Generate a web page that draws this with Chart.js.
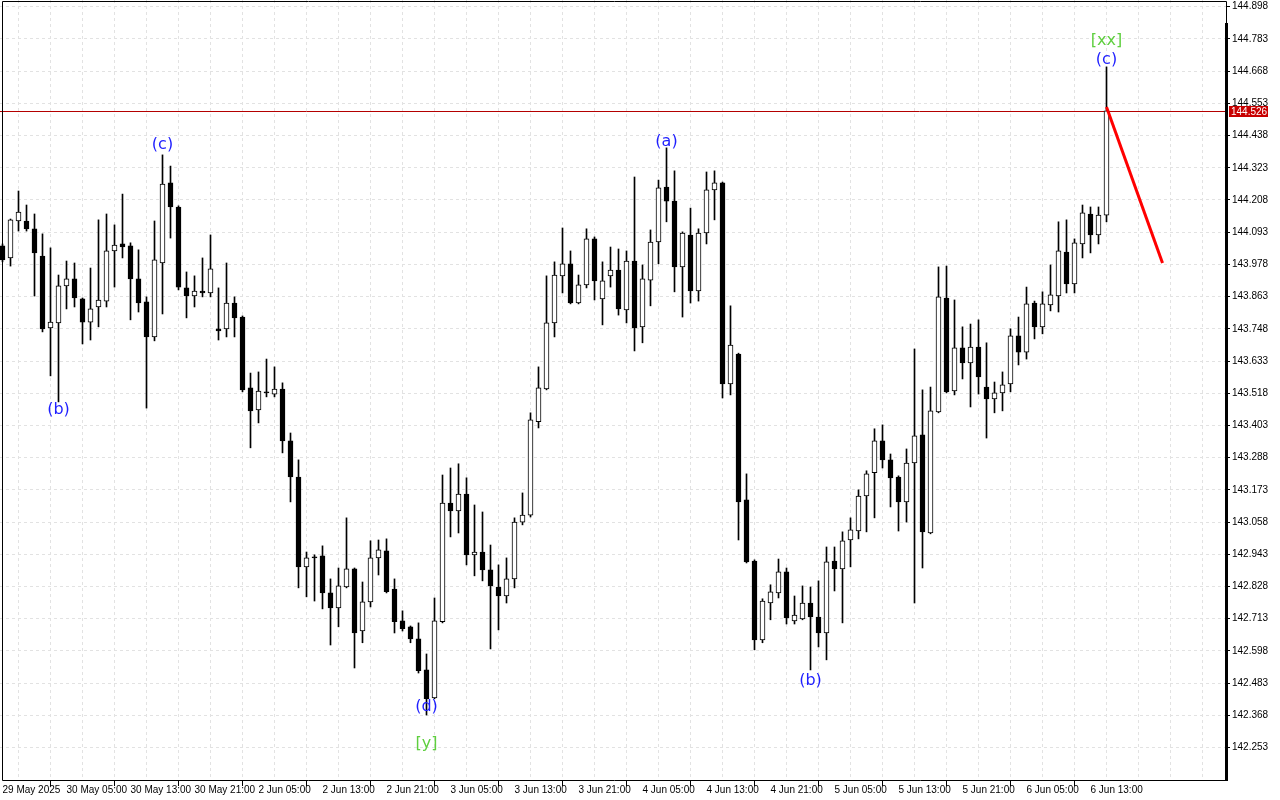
<!DOCTYPE html>
<html><head><meta charset="utf-8">
<script src="https://cdn.jsdelivr.net/npm/chart.js@4.4.1/dist/chart.umd.min.js"></script>
<style>html,body{margin:0;padding:0;background:#fff;overflow:hidden}canvas{display:block}</style>
</head><body>
<canvas id="c" width="1280" height="800"></canvas>
<script>
// ---- data (H1 candles, 29 May 21:00 -> 6 Jun 15:00) ----
const axisLabels = ['29 May 2025','30 May 05:00','30 May 13:00','30 May 21:00','2 Jun 05:00','2 Jun 13:00','2 Jun 21:00','3 Jun 05:00','3 Jun 13:00','3 Jun 21:00','4 Jun 05:00','4 Jun 13:00','4 Jun 21:00','5 Jun 05:00','5 Jun 13:00','5 Jun 21:00','6 Jun 05:00','6 Jun 13:00'];
const yTicks = [142.253,142.368,142.483,142.598,142.713,142.828,142.943,143.058,143.173,143.288,143.403,143.518,143.633,143.748,143.863,143.978,144.093,144.208,144.323,144.438,144.553,144.668,144.783,144.898];

const open = [144.044,144.001,144.133,144.133,144.105,144.008,143.751,143.769,143.901,143.926,143.855,143.772,143.826,143.847,144.026,144.051,144.044,143.926,143.844,143.719,143.983,144.269,144.183,143.894,143.865,143.883,143.876,143.748,143.748,143.840,143.790,143.537,143.458,143.523,143.515,143.533,143.348,143.219,142.898,142.934,142.937,142.805,142.751,142.826,142.891,142.669,142.773,142.930,142.955,142.819,142.705,142.684,142.641,142.530,142.430,142.702,143.126,143.098,143.158,142.941,142.951,142.887,142.826,142.794,142.855,143.058,143.083,143.416,143.533,143.769,143.937,143.980,143.840,143.905,144.069,143.855,143.937,143.958,143.815,143.990,143.755,143.922,144.058,144.254,144.204,143.969,144.083,143.883,144.090,144.244,144.269,143.551,143.658,143.137,142.919,142.637,142.769,142.805,142.880,142.705,142.712,142.769,142.719,142.662,142.919,142.891,142.994,143.026,143.151,143.234,143.348,143.280,143.219,143.130,143.269,143.369,143.019,143.451,143.858,143.526,143.680,143.626,143.683,143.540,143.498,143.519,143.551,143.723,143.665,143.840,143.755,143.833,143.865,144.022,143.908,144.051,144.158,144.083,144.154];
const high = [144.051,144.140,144.240,144.190,144.158,144.087,144.037,143.940,143.990,143.983,143.858,143.965,144.137,144.158,144.119,144.229,144.055,144.030,143.862,144.133,144.369,144.329,144.187,143.951,143.937,144.001,144.083,143.894,143.983,143.862,143.794,143.590,143.594,143.640,143.612,143.555,143.376,143.280,142.951,142.941,142.973,142.855,142.894,143.073,142.894,142.844,142.991,142.994,142.998,142.855,142.741,142.687,142.698,142.587,142.787,143.226,143.251,143.266,143.216,143.119,143.094,142.976,142.905,142.930,143.073,143.162,143.448,143.612,143.937,143.987,144.108,144.026,143.940,144.105,144.076,143.987,144.040,144.033,144.026,144.290,143.976,144.101,144.279,144.394,144.312,144.094,144.179,144.105,144.308,144.312,144.272,143.830,143.661,143.230,142.923,142.784,142.834,142.926,142.894,142.794,142.830,142.826,142.848,142.969,142.969,143.023,143.073,143.173,143.241,143.391,143.405,143.301,143.223,143.319,143.676,143.530,143.540,143.969,143.972,143.851,143.755,143.765,143.780,143.698,143.558,143.594,143.748,143.790,143.897,143.847,143.880,143.976,144.130,144.137,144.069,144.190,144.183,144.183,144.683];
const low = [143.987,143.972,144.097,144.097,143.865,143.737,143.580,143.487,143.819,143.826,143.694,143.708,143.755,143.826,143.897,144.001,143.780,143.808,143.465,143.705,143.801,144.072,143.887,143.787,143.826,143.862,143.862,143.708,143.719,143.719,143.523,143.323,143.412,143.505,143.505,143.305,143.130,142.823,142.791,142.776,142.748,142.619,142.684,142.823,142.537,142.627,142.755,142.869,142.805,142.662,142.669,142.627,142.519,142.369,142.427,142.698,143.005,143.019,142.905,142.866,142.848,142.605,142.673,142.769,142.823,143.048,143.076,143.394,143.530,143.719,143.876,143.837,143.837,143.894,143.851,143.762,143.897,143.797,143.769,143.669,143.698,143.830,143.980,144.130,143.880,143.790,143.840,143.847,144.051,144.137,143.501,143.512,142.994,142.912,142.602,142.627,142.709,142.787,142.694,142.694,142.709,142.530,142.612,142.566,142.812,142.698,142.898,142.998,143.023,143.073,143.251,143.112,143.026,143.058,142.769,142.894,143.016,143.448,143.519,143.512,143.569,143.469,143.515,143.358,143.448,143.455,143.523,143.619,143.640,143.712,143.730,143.812,143.808,143.876,143.876,144.001,144.019,144.051,144.130];
const close = [143.994,144.137,144.165,144.105,144.019,143.748,143.772,143.901,143.926,143.858,143.772,143.819,143.851,144.026,144.047,144.040,143.926,143.840,143.719,143.994,144.265,144.183,143.897,143.865,143.883,143.876,143.962,143.740,143.840,143.787,143.530,143.455,143.526,143.519,143.533,143.348,143.219,142.898,142.930,142.930,142.805,142.751,142.830,142.891,142.662,142.773,142.930,142.959,142.809,142.702,142.677,142.641,142.527,142.427,142.705,143.126,143.098,143.158,142.941,142.951,142.887,142.830,142.794,142.855,143.058,143.083,143.423,143.537,143.769,143.940,143.980,143.840,143.905,144.069,143.919,143.919,143.958,143.819,143.990,143.751,143.926,144.058,144.251,144.204,143.969,144.090,143.883,144.090,144.244,144.269,143.551,143.690,143.130,142.916,142.637,142.776,142.809,142.880,142.716,142.726,142.769,142.719,142.662,142.916,142.891,142.991,143.030,143.151,143.230,143.348,143.280,143.216,143.130,143.269,143.366,143.023,143.455,143.862,143.523,143.680,143.626,143.683,143.576,143.498,143.519,143.548,143.723,143.665,143.837,143.755,143.837,143.869,144.026,143.908,144.055,144.162,144.083,144.154,144.526];

// forecast segment (candle index, price)
const forecastIdx = [138, 145];
const forecastPrice = [144.540, 143.983];

// Elliott wave labels
const waveText  = ['(c)', '(b)', '(d)', '[y]', '(a)', '(b)', '(c)', '[xx]'];
const waveIdx   = [20, 7, 53, 53, 83, 101, 138, 138];
const wavePrice = [144.411, 143.466, 142.405, 142.273, 144.422, 142.498, 144.715, 144.783];
const waveColor = ['#1f1fff','#1f1fff','#1f1fff','#5fcf3f','#1f1fff','#1f1fff','#1f1fff','#5fcf3f'];

const lastPrice = close[close.length - 1];

// ---- chart ----
Chart.defaults.font.family = "'Liberation Sans', Arial, sans-serif";
Chart.defaults.font.size = 10;
Chart.defaults.color = '#000';

const idx = open.map((_, i) => i);
const bodies = idx.map(i => ({x: i, y: [open[i], close[i]]}));
const wicks = idx.map(i => ({x: i, y: [low[i], high[i]]}));
const bodyColors = idx.map(i => close[i] > open[i] ? '#ffffff' : '#000000');

const framePlugin = {
  id: 'frame',
  beforeDatasetsDraw(chart) {
    const {ctx, chartArea: a, scales: {y}} = chart;
    const py = Math.round(y.getPixelForValue(lastPrice)) + 0.5;
    ctx.save();
    ctx.strokeStyle = '#b40000';
    ctx.lineWidth = 1;
    ctx.beginPath();
    ctx.moveTo(a.left, py); ctx.lineTo(a.right, py);
    ctx.stroke();
    ctx.restore();
  },
  afterDatasetsDraw(chart) {
    const {ctx, scales: {x, y}} = chart;
    ctx.save();
    ctx.font = "16px 'DejaVu Sans', sans-serif";
    ctx.textAlign = 'center';
    ctx.textBaseline = 'middle';
    waveText.forEach((t, k) => {
      ctx.fillStyle = waveColor[k];
      ctx.fillText(t, x.getPixelForValue(waveIdx[k]), y.getPixelForValue(wavePrice[k]) + 2);
    });
    ctx.restore();
  },
  afterDraw(chart) {
    const {ctx, chartArea: a, scales: {y}} = chart;
    ctx.save();
    ctx.strokeStyle = '#000';
    ctx.lineWidth = 1;
    ctx.beginPath();
    ctx.moveTo(2.5, a.bottom + 0.5);
    ctx.lineTo(2.5, 1.5);
    ctx.lineTo(a.right + 0.5, 1.5);
    ctx.lineTo(a.right + 0.5, a.bottom + 0.5);
    ctx.lineTo(2.5, a.bottom + 0.5);
    ctx.stroke();
    ctx.fillStyle = '#000';
    ctx.fillRect(a.right - 1, 23, 3, a.bottom - 22);
    // price label
    const py = Math.round(y.getPixelForValue(lastPrice));
    ctx.fillStyle = '#c80000';
    ctx.fillRect(a.right + 3, py - 5, 39, 11);
    ctx.fillStyle = '#fff';
    ctx.font = "10px 'Liberation Sans', sans-serif";
    ctx.textBaseline = 'middle';
    ctx.textAlign = 'left';
    ctx.fillText(lastPrice.toFixed(3), a.right + 5, py + 1);
    ctx.restore();
  }
};

new Chart(document.getElementById('c'), {
  type: 'bar',
  data: {
    datasets: [
      {type: 'line', data: forecastIdx.map((v, k) => ({x: v, y: forecastPrice[k]})), borderColor: '#ff0000', borderWidth: 3, pointRadius: 0, order: 0, clip: false},
      {type: 'bar', data: bodies, backgroundColor: bodyColors, borderColor: '#000', borderWidth: 1, borderSkipped: false, barThickness: 5, grouped: false, minBarLength: 1, order: 1},
      {type: 'bar', data: wicks, backgroundColor: '#000', borderWidth: 0, barThickness: 1, grouped: false, order: 2}
    ]
  },
  options: {
    responsive: false,
    animation: false,
    events: [],
    devicePixelRatio: 1,
    layout: {padding: 0},
    plugins: {legend: {display: false}, tooltip: {enabled: false}},
    scales: {
      x: {
        type: 'linear', position: 'bottom', offset: false,
        min: -0.3125, max: 152.9375,
        afterBuildTicks: s => { const t = []; for (let i = 0; i <= 152; i += 4) t.push({value: i}); s.ticks = t; },
        ticks: {
          autoSkip: false, maxRotation: 0, minRotation: 0, align: 'start', padding: -2,
          callback: v => (v % 8 === 0 && axisLabels[v / 8]) ? axisLabels[v / 8] : ''
        },
        grid: {
          color: '#e2e2e2', lineWidth: 1, tickLength: 6,
          tickColor: c => (c.tick && c.tick.value % 8 === 0 && c.tick.value <= 136) ? '#000' : 'rgba(0,0,0,0)'
        },
        border: {display: false, dash: [3, 3]},
        afterFit: s => { s.height = 20; s.paddingLeft = 0; s.paddingRight = 0; }
      },
      y: {
        type: 'linear', position: 'right',
        min: 142.137, max: 144.922,
        afterBuildTicks: s => { s.ticks = yTicks.map(v => ({value: v})); },
        ticks: {padding: 2, callback: v => Number(v).toFixed(3)},
        grid: {color: '#e2e2e2', lineWidth: 1, tickLength: 4, tickColor: '#000'},
        border: {display: false, dash: [3, 3]},
        afterFit: s => { s.width = 54; s.paddingTop = 0; s.paddingBottom = 0; }
      }
    }
  },
  plugins: [framePlugin]
});
</script>
</body></html>
